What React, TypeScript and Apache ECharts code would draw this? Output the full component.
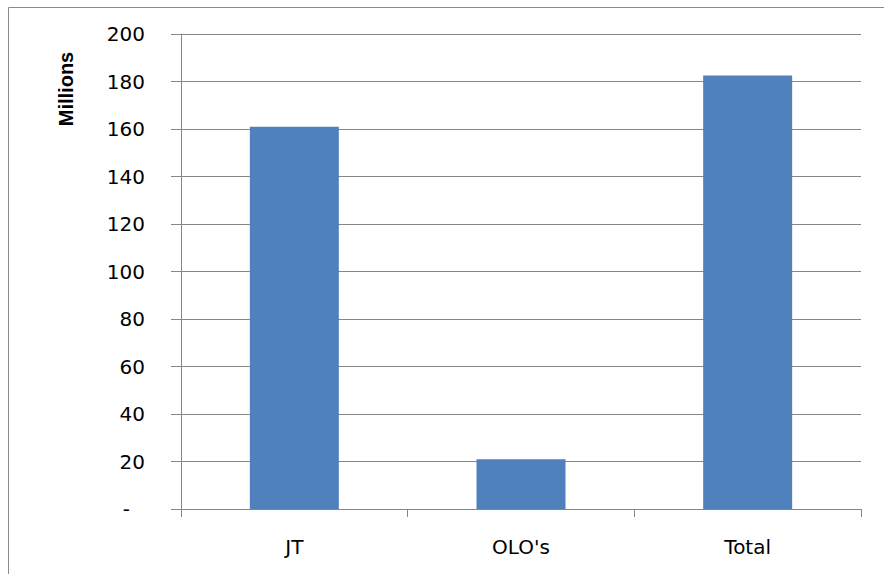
import React, { useEffect, useRef } from "react";
import * as echarts from "echarts";

const categories = ["JT", "OLO's", "Total"];
const values = [161, 21, 182.5];
const yTicks = { min: 0, max: 200, interval: 20 };
const axisName = "Millions";

export default function App() {
  const ref = useRef<HTMLDivElement>(null);
  useEffect(() => {
    if (!ref.current) return;
    const chart = echarts.init(ref.current, null, { renderer: "svg" });
    chart.setOption({
      animation: false,
      backgroundColor: "#ffffff",
      grid: { left: 181, top: 34, right: 23, bottom: 65, containLabel: false },
      graphic: [
        {
          type: "rect",
          shape: { x: 8.5, y: 7.5, width: 1000, height: 1000 },
          style: { fill: "none", stroke: "#8a8a8a", lineWidth: 1 },
          silent: true,
        },
        {
          type: "text",
          x: 66,
          y: 89,
          rotation: Math.PI / 2,
          style: {
            text: axisName,
            fontFamily: "Liberation Sans, Arial, sans-serif",
            fontWeight: "bold",
            fontSize: 20,
            fill: "#000",
            align: "center",
            verticalAlign: "middle",
          },
        },
      ],
      xAxis: {
        type: "category",
        data: categories,
        axisLine: { show: true, lineStyle: { color: "#868686", width: 1 } },
        axisTick: { show: true, length: 8, alignWithLabel: false, lineStyle: { color: "#868686" } },
        axisLabel: {
          margin: 28,
          color: "#000",
          fontFamily: "DejaVu Sans, Verdana, sans-serif",
          fontSize: 20,
        },
      },
      yAxis: {
        type: "value",
        min: yTicks.min,
        max: yTicks.max,
        interval: yTicks.interval,
        axisLine: { show: true, lineStyle: { color: "#868686", width: 1 } },
        axisTick: { show: true, length: 10, lineStyle: { color: "#868686" } },
        splitLine: { show: true, lineStyle: { color: "#868686", width: 1 } },
        axisLabel: {
          margin: 36,
          color: "#000",
          fontFamily: "DejaVu Sans, Verdana, sans-serif",
          fontSize: 20,
          formatter: (v: number) => (v === 0 ? "{dash|-}" : String(v)),
          rich: {
            dash: {
              padding: [0, 15, 0, 0],
              color: "#000",
              fontFamily: "DejaVu Sans, Verdana, sans-serif",
              fontSize: 20,
            },
          },
        },
      },
      series: [
        {
          type: "bar",
          data: values,
          barWidth: 89,
          itemStyle: { color: "#4F81BD" },
        },
      ],
    });
    return () => chart.dispose();
  }, []);
  return (
    <div
      ref={ref}
      style={{ position: "fixed", left: 0, top: 0, width: 884, height: 574, background: "#fff" }}
    />
  );
}
